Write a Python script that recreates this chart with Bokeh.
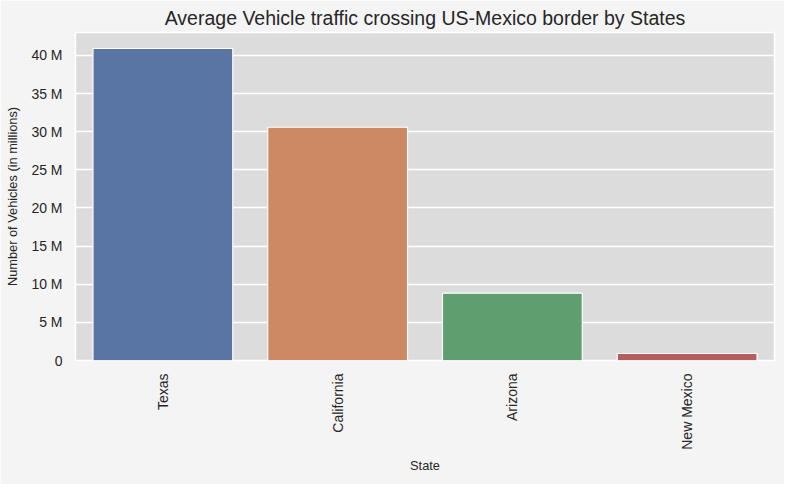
import math
from bokeh.plotting import figure
from bokeh.models import ColumnDataSource, Range1d, FactorRange, CustomJSTickFormatter, FixedTicker
from bokeh.embed import file_html
from bokeh.resources import INLINE

states = ["Texas", "California", "Arizona", "New Mexico"]
vehicles = [40_900_000, 30_580_000, 8_820_000, 920_000]
colors = ["#5875a4", "#cc8963", "#5f9e6e", "#b55d60"]
y_ticks = [0, 5e6, 10e6, 15e6, 20e6, 25e6, 30e6, 35e6, 40e6]

source = ColumnDataSource(dict(state=states, vehicles=vehicles, color=colors))

p = figure(width=784, height=484, output_backend="svg", toolbar_location=None,
           x_range=FactorRange(factors=states, range_padding=0),
           y_range=Range1d(0, 43.0e6),
           title="Average Vehicle traffic crossing US-Mexico border by States",
           min_border_left=75, min_border_right=10, min_border_top=32, min_border_bottom=124)

p.vbar(x="state", top="vehicles", width=0.8, fill_color="color", line_color="white",
       line_width=1.2, source=source)

p.background_fill_color = "#dcdcdc"
p.border_fill_color = "#f4f4f4"
p.outline_line_color = "white"
p.outline_line_width = 1.5

p.title.align = "center"
p.title.text_font = "Liberation Sans"
p.title.text_font_size = "19.5px"
p.title.text_font_style = "normal"
p.title.text_color = "#262626"
p.title.standoff = 7

p.xgrid.grid_line_color = None
p.ygrid.grid_line_color = "white"
p.ygrid.grid_line_width = 1.3

p.yaxis.ticker = FixedTicker(ticks=y_ticks)
p.yaxis.formatter = CustomJSTickFormatter(code="return tick == 0 ? '0' : (tick / 1e6).toFixed(0) + ' M';")

for ax in (p.xaxis[0], p.yaxis[0]):
    ax.axis_line_color = None
    ax.major_tick_line_color = None
    ax.minor_tick_line_color = None
    ax.major_tick_in = 0
    ax.major_tick_out = 0
    ax.minor_tick_in = 0
    ax.minor_tick_out = 0
    ax.major_label_text_font = "Liberation Sans"
    ax.major_label_text_font_size = "14px"
    ax.major_label_text_color = "#262626"
    ax.major_label_standoff = 13
    ax.axis_label_text_font = "Liberation Sans"
    ax.axis_label_text_font_size = "12.8px"
    ax.axis_label_text_font_style = "normal"
    ax.axis_label_text_color = "#262626"

p.xaxis.axis_label = "State"
p.xaxis.major_label_orientation = math.pi / 2
p.xaxis.axis_label_standoff = 5
p.yaxis.axis_label = "Number of Vehicles (in millions)"
p.yaxis.axis_label_standoff = 8

open("out.html", "w").write(file_html(p, INLINE))
